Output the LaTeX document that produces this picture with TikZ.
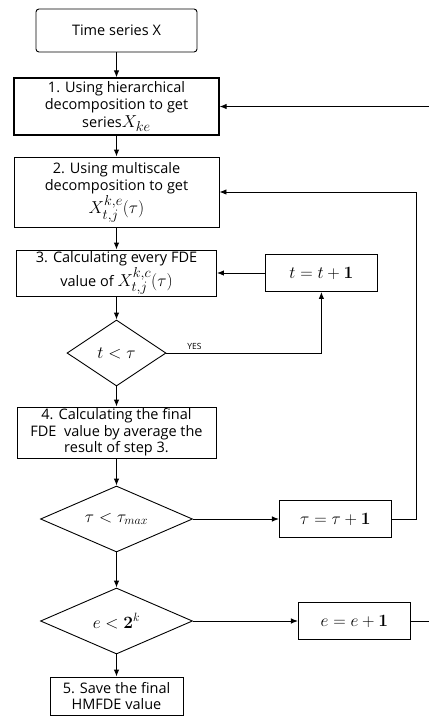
\documentclass[tikz,border=0pt]{standalone}
\usepackage[no-math]{fontspec}
\setmainfont{Open Sans}
\usetikzlibrary{arrows.meta,positioning,shapes.geometric}

\newcommand{\lgmath}[1]{{\fontsize{19}{17.5}\selectfont$#1$}}

\tikzset{
  x=1pt, y=1pt,
  every node/.style={font=\fontsize{14.5}{17.5}\selectfont},
  bigmath/.style={font=\fontsize{18}{20}\selectfont},
  stepbox/.style={draw, line width=0.9pt, align=center, minimum width=205pt, inner sep=0pt},
  startbox/.style={draw, line width=0.9pt, rounded corners=3pt, minimum width=161pt, minimum height=43pt},
  endbox/.style={draw, line width=0.9pt, align=center, minimum width=133pt, minimum height=38pt, inner sep=0pt,
    font=\fontsize{14.5}{16}\selectfont},
  decision/.style={draw, diamond, shape aspect=2.3, line width=0.9pt, inner sep=0pt, minimum height=66pt, bigmath},
  updatebox/.style={draw, line width=0.9pt, minimum width=112pt, minimum height=37pt, bigmath},
  flow/.style={-{Latex[length=7pt,width=5.5pt]}, line width=0.9pt}
}

\begin{document}
\begin{tikzpicture}
	\useasboundingbox (0,0) rectangle (429,-716);
	% Draw the main column
	\node[startbox] (start) at (116.5,-30.5) {Time series X};
	\node[stepbox, minimum height=57pt, line width=1.3pt] (hier) at (116.5,-106.5)
		{1. Using hierarchical\\decomposition to get\\series\lgmath{X_{ke}}};
	\node[stepbox, minimum height=70pt] (multi) at (116.5,-192)
		{2. Using multiscale\\decomposition to get\\\lgmath{X_{t,j}^{k,e}(\tau)}};
	\node[stepbox, minimum width=200pt, minimum height=46pt] (fde) at (116.5,-273)
		{3. Calculating every FDE\\value of \lgmath{X_{t,j}^{k,c}(\tau)}};
	\node[decision, shape aspect=1.5, minimum width=99pt] (tdec) at (116.5,-353) {$t<\tau$};
	\node[stepbox, minimum width=199pt, minimum height=51pt, font=\fontsize{14.5}{16.5}\selectfont] (avg) at (116.5,-432.5)
		{4. Calculating the final\\FDE\ \ value by average the\\result of step 3.};
	\node[decision, minimum width=152pt] (taudec) at (116.5,-519) {$\tau<\tau_{max}$};
	\node[decision, minimum width=152pt] (edec) at (116.5,-621) {$e<\mathbf{2}^k$};
	\node[endbox] (save) at (116.5,-696) {5. Save the final\\HMFDE value};
	% Draw the update boxes
	\node[updatebox, right=48pt of fde] (tinc) {$t=t+\mathbf{1}$};
	\node[updatebox, right=86pt of taudec] (tauinc) {$\tau=\tau+\mathbf{1}$};
	\node[updatebox, right=105pt of edec] (einc) {$e=e+\mathbf{1}$};
	% Connect the nodes with arrows
	\draw[flow] (start) -- (hier);
	\draw[flow] (hier) -- (multi);
	\draw[flow] (multi) -- (fde);
	\draw[flow] (fde) -- (tdec);
	\draw[flow] (tdec) -- (avg);
	\draw[flow] (avg) -- (taudec);
	\draw[flow] (taudec) -- (edec);
	\draw[flow] (edec) -- (save);
	\draw[flow] (tdec.east) -| node[pos=0.09, above, font=\fontsize{8.5}{10}\selectfont] {YES} (tinc.south);
	\draw[flow] (tinc) -- (fde);
	\draw[flow] (taudec) -- (tauinc);
	\draw[flow] (edec) -- (einc);
	\draw[flow] (tauinc.east) -- ++(25,0) |- (multi.east);
	\draw[flow] (einc.east) -- ++(19,0) |- (hier.east);
\end{tikzpicture}
\end{document}
